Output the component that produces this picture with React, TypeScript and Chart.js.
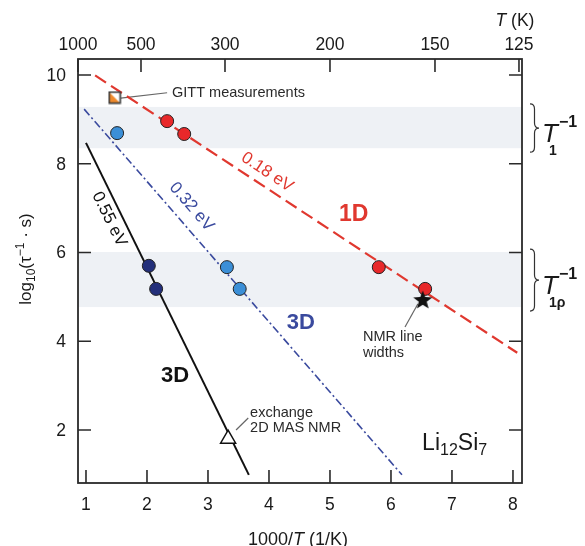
import React, { useEffect, useRef } from 'react';
import { Chart, registerables } from 'chart.js';

Chart.register(...registerables);

// ---------- data ----------
const xTicks = [1, 2, 3, 4, 5, 6, 7, 8];
const yTicks = [2, 4, 6, 8, 10];
const topTempTicks = [1000, 500, 300, 200, 150, 125];

// fitted Arrhenius lines (end points)
const line1D = [{ x: 1.15, y: 9.99 }, { x: 8.07, y: 3.74 }];
const line3DBlue = [{ x: 0.97, y: 9.23 }, { x: 6.18, y: 0.99 }];
const line3DBlack = [{ x: 1.0, y: 8.47 }, { x: 3.67, y: 0.99 }];

// measured points
const red1D = [{ x: 2.33, y: 8.96 }, { x: 2.61, y: 8.67 }, { x: 5.8, y: 5.67 }, { x: 6.56, y: 5.18 }];
const blue3D = [{ x: 1.51, y: 8.69 }, { x: 3.31, y: 5.67 }, { x: 3.52, y: 5.18 }];
const navy3D = [{ x: 2.03, y: 5.7 }, { x: 2.15, y: 5.18 }];
const gittPoint = [{ x: 1.47, y: 9.49 }];
const nmrWidthPoint = [{ x: 6.52, y: 4.93 }];
const exchangePoint = [{ x: 3.33, y: 1.8 }];

// relaxation windows
const bandT1 = [8.35, 9.28];
const bandT1rho = [4.77, 6.01];

// ---------- styles ----------
const FF = '"Liberation Sans", Arial, Helvetica, sans-serif';
const RED_LINE = '#e0382f';
const RED_PT = '#e8282a';
const BLUE_LINE = '#3a4a9e';
const BLUE_PT = '#3b8fd7';
const NAVY_PT = '#232f7a';
const BAND = '#eef1f5';
const FRAME = '#2a2a2a';

const textLabels = [
  { text: '0.18 eV', x: 3.97, y: 7.81, rot: 33.5, color: RED_LINE, font: '17px ' + FF },
  { text: '1D', x: 5.39, y: 6.85, rot: 0, color: RED_LINE, font: 'bold 23px ' + FF },
  { text: '0.32 eV', x: 2.73, y: 7.03, rot: 49, color: BLUE_LINE, font: '17px ' + FF },
  { text: '3D', x: 4.52, y: 4.41, rot: 0, color: BLUE_LINE, font: 'bold 22px ' + FF },
  { text: '0.55 eV', x: 1.38, y: 6.75, rot: 63.8, color: '#111', font: '17px ' + FF },
  { text: '3D', x: 2.46, y: 3.22, rot: 0, color: '#111', font: 'bold 22px ' + FF },
];

const noteLabels = [
  { lines: ['GITT measurements'], x: 2.41, y: [9.6] },
  { lines: ['NMR line', 'widths'], x: 5.54, y: [4.1, 3.74] },
  { lines: ['exchange', '2D MAS NMR'], x: 3.69, y: [2.38, 2.05] },
];
const connectors = [
  [{ x: 1.57, y: 9.48 }, { x: 2.33, y: 9.6 }],
  [{ x: 6.44, y: 4.84 }, { x: 6.23, y: 4.32 }],
  [{ x: 3.46, y: 2.0 }, { x: 3.66, y: 2.27 }],
];

type Seg = { t: string; f: string; dy?: number };
function richWidth(ctx: CanvasRenderingContext2D, segs: Seg[]) {
  let w = 0;
  for (const s of segs) {
    ctx.font = s.f;
    w += ctx.measureText(s.t).width;
  }
  return w;
}
function drawRich(ctx: CanvasRenderingContext2D, segs: Seg[], x: number, y: number, align = 'left') {
  const w = richWidth(ctx, segs);
  let cx = align === 'center' ? x - w / 2 : align === 'right' ? x - w : x;
  ctx.textAlign = 'left';
  for (const s of segs) {
    ctx.font = s.f;
    ctx.fillText(s.t, cx, y + (s.dy || 0));
    cx += ctx.measureText(s.t).width;
  }
}

function brace(ctx: CanvasRenderingContext2D, x0: number, y0: number, y1: number, w: number) {
  const xm = x0 + w * 0.5;
  const xt = x0 + w;
  const ym = (y0 + y1) / 2;
  const r = 5;
  ctx.beginPath();
  ctx.moveTo(x0, y0);
  ctx.quadraticCurveTo(xm, y0, xm, y0 + r);
  ctx.lineTo(xm, ym - r);
  ctx.quadraticCurveTo(xm, ym, xt, ym);
  ctx.quadraticCurveTo(xm, ym, xm, ym + r);
  ctx.lineTo(xm, y1 - r);
  ctx.quadraticCurveTo(xm, y1, x0, y1);
  ctx.stroke();
}

function makeSquare() {
  const c = document.createElement('canvas');
  c.width = 14;
  c.height = 14;
  const g = c.getContext('2d')!;
  g.fillStyle = '#ffffff';
  g.fillRect(1.5, 1.5, 11, 11);
  g.fillStyle = '#f08a2c';
  g.beginPath();
  g.moveTo(1.5, 1.5);
  g.lineTo(1.5, 12.5);
  g.lineTo(12.5, 12.5);
  g.closePath();
  g.fill();
  g.strokeStyle = '#3a3a3a';
  g.lineWidth = 1.6;
  g.strokeRect(1.5, 1.5, 11, 11);
  return c;
}
function makeStar() {
  const c = document.createElement('canvas');
  c.width = 22;
  c.height = 22;
  const g = c.getContext('2d')!;
  g.fillStyle = '#111';
  g.beginPath();
  for (let i = 0; i < 10; i++) {
    const r = i % 2 === 0 ? 10 : 4.2;
    const a = -Math.PI / 2 + (i * Math.PI) / 5;
    const px = 11 + r * Math.cos(a);
    const py = 11.5 + r * Math.sin(a);
    if (i === 0) g.moveTo(px, py);
    else g.lineTo(px, py);
  }
  g.closePath();
  g.fill();
  return c;
}

const decor = {
  id: 'decor',
  beforeDatasetsDraw(chart: any) {
    const { ctx, chartArea, scales } = chart;
    const { left, right } = chartArea;
    const y = scales.y;
    const x = scales.x;
    ctx.save();
    ctx.fillStyle = BAND;
    for (const b of [bandT1, bandT1rho]) {
      const yt = y.getPixelForValue(b[1]);
      const yb = y.getPixelForValue(b[0]);
      ctx.fillRect(left, yt, right - left, yb - yt);
    }
    ctx.strokeStyle = '#666';
    ctx.lineWidth = 1.2;
    for (const c of connectors) {
      ctx.beginPath();
      ctx.moveTo(x.getPixelForValue(c[0].x), y.getPixelForValue(c[0].y));
      ctx.lineTo(x.getPixelForValue(c[1].x), y.getPixelForValue(c[1].y));
      ctx.stroke();
    }
    ctx.restore();
  },
  afterDatasetsDraw(chart: any) {
    const { ctx, chartArea, scales } = chart;
    const { left, right, top, bottom } = chartArea;
    const x = scales.x;
    const xt = scales.xTop;
    const y = scales.y;
    const TL = 13;
    ctx.save();
    // frame
    ctx.strokeStyle = FRAME;
    ctx.lineWidth = 1.8;
    ctx.strokeRect(left, top, right - left, bottom - top);
    ctx.lineWidth = 1.6;
    ctx.beginPath();
    for (const v of xTicks) {
      const px = x.getPixelForValue(v);
      ctx.moveTo(px, bottom);
      ctx.lineTo(px, bottom - TL);
    }
    for (const v of yTicks) {
      const py = y.getPixelForValue(v);
      ctx.moveTo(left, py);
      ctx.lineTo(left + TL, py);
      ctx.moveTo(right, py);
      ctx.lineTo(right - TL, py);
    }
    for (const t of topTempTicks) {
      const px = xt.getPixelForValue(1000 / t);
      ctx.moveTo(px, top);
      ctx.lineTo(px, top + TL);
    }
    ctx.stroke();

    // tick labels
    ctx.fillStyle = '#1a1a1a';
    ctx.font = '17.5px ' + FF;
    ctx.textBaseline = 'middle';
    ctx.textAlign = 'center';
    for (const v of xTicks) ctx.fillText(String(v), x.getPixelForValue(v), 505);
    for (const t of topTempTicks) ctx.fillText(String(t), xt.getPixelForValue(1000 / t), 45);
    ctx.textAlign = 'right';
    for (const v of yTicks) ctx.fillText(String(v), left - 12, y.getPixelForValue(v) + 1);

    // axis titles
    ctx.textBaseline = 'alphabetic';
    drawRich(
      ctx,
      [
        { t: '1000/', f: '18px ' + FF },
        { t: 'T', f: 'italic 18px ' + FF },
        { t: ' (1/K)', f: '18px ' + FF },
      ],
      (left + right) / 2 - 2,
      545,
      'center'
    );
    drawRich(
      ctx,
      [
        { t: 'T', f: 'italic 17.5px ' + FF },
        { t: ' (K)', f: '17.5px ' + FF },
      ],
      515,
      26,
      'center'
    );
    ctx.save();
    ctx.translate(31, 259);
    ctx.rotate(-Math.PI / 2);
    drawRich(
      ctx,
      [
        { t: 'log', f: '17px ' + FF },
        { t: '10', f: '12px ' + FF, dy: 4 },
        { t: '(', f: '17px ' + FF },
        { t: 'τ', f: '17px ' + FF },
        { t: '−1', f: '12px ' + FF, dy: -7 },
        { t: ' · s)', f: '17px ' + FF },
      ],
      0,
      0,
      'center'
    );
    ctx.restore();

    // rotated / line labels
    ctx.textAlign = 'center';
    ctx.textBaseline = 'middle';
    for (const l of textLabels) {
      ctx.save();
      ctx.translate(x.getPixelForValue(l.x), y.getPixelForValue(l.y));
      ctx.rotate((l.rot * Math.PI) / 180);
      ctx.fillStyle = l.color;
      ctx.font = l.font;
      ctx.fillText(l.text, 0, 0);
      ctx.restore();
    }

    // notes
    ctx.fillStyle = '#2a2a2a';
    ctx.font = '14.5px ' + FF;
    ctx.textAlign = 'left';
    for (const n of noteLabels) {
      n.lines.forEach((s, i) => ctx.fillText(s, x.getPixelForValue(n.x), y.getPixelForValue(n.y[i])));
    }

    // compound label
    ctx.fillStyle = '#1a1a1a';
    ctx.textBaseline = 'alphabetic';
    drawRich(
      ctx,
      [
        { t: 'Li', f: '23px ' + FF },
        { t: '12', f: '16px ' + FF, dy: 5 },
        { t: 'Si', f: '23px ' + FF },
        { t: '7', f: '16px ' + FF, dy: 5 },
      ],
      x.getPixelForValue(6.51),
      y.getPixelForValue(1.55),
      'left'
    );

    // braces and relaxation labels
    ctx.strokeStyle = '#333';
    ctx.lineWidth = 1.2;
    const bands = [
      { b: bandT1, sub: '1' },
      { b: bandT1rho, sub: '1ρ' },
    ];
    for (const { b, sub } of bands) {
      const yt = y.getPixelForValue(b[1]);
      const yb = y.getPixelForValue(b[0]);
      brace(ctx, 530, yt - 3, yb + 4, 9);
      const c = (yt + yb) / 2;
      ctx.fillStyle = '#1a1a1a';
      ctx.font = 'italic 26px ' + FF;
      ctx.fillText('T', 542, c + 14.5);
      ctx.font = 'bold 14px ' + FF;
      ctx.fillText(sub, 549, c + 27.5);
      ctx.font = 'bold 16px ' + FF;
      ctx.fillText('−1', 559, c - 1);
    }
    ctx.restore();
  },
};

export default function App() {
  const ref = useRef<HTMLCanvasElement | null>(null);
  useEffect(() => {
    if (!ref.current) return;
    const square = makeSquare();
    const star = makeStar();
    const circle = (data: any[], color: string) => ({
      data,
      showLine: false,
      pointStyle: 'circle',
      pointRadius: 6.5,
      pointBackgroundColor: color,
      pointBorderColor: '#222',
      pointBorderWidth: 1,
    });
    const line = (data: any[], color: string, dash: number[], width: number) => ({
      data,
      showLine: true,
      borderColor: color,
      borderWidth: width,
      borderDash: dash,
      pointRadius: 0,
      fill: false,
      tension: 0,
    });
    const chart = new Chart(ref.current, {
      type: 'scatter',
      data: {
        datasets: [
          { data: nmrWidthPoint, pointStyle: star, pointRadius: 10 },
          { data: gittPoint, pointStyle: square, pointRadius: 7 },
          {
            data: exchangePoint,
            pointStyle: 'triangle',
            pointRadius: 8.7,
            pointBackgroundColor: '#ffffff',
            pointBorderColor: '#111',
            pointBorderWidth: 1.5,
          },
          circle(red1D, RED_PT),
          circle(blue3D, BLUE_PT),
          circle(navy3D, NAVY_PT),
          line(line1D, RED_LINE, [13, 6], 2.2),
          line(line3DBlue, BLUE_LINE, [8, 3, 2, 3], 1.6),
          line(line3DBlack, '#111', [], 2),
        ] as any,
      },
      options: {
        animation: false,
        responsive: false,
        maintainAspectRatio: false,
        layout: { padding: { left: 78, right: 63, top: 59, bottom: 63 } },
        plugins: { legend: { display: false }, tooltip: { enabled: false } },
        events: [],
        scales: {
          x: { type: 'linear', position: 'bottom', min: 0.869, max: 8.148, display: false },
          xTop: { type: 'linear', position: 'top', min: 1, max: 8.048, display: false },
          y: { type: 'linear', min: 0.806, max: 10.36, display: false },
        },
      } as any,
      plugins: [decor],
    });
    return () => chart.destroy();
  }, []);
  return (
    <div style={{ position: 'fixed', left: 0, top: 0, width: 585, height: 546, background: '#fff' }}>
      <canvas ref={ref} width={585} height={546} style={{ display: 'block' }} />
    </div>
  );
}
